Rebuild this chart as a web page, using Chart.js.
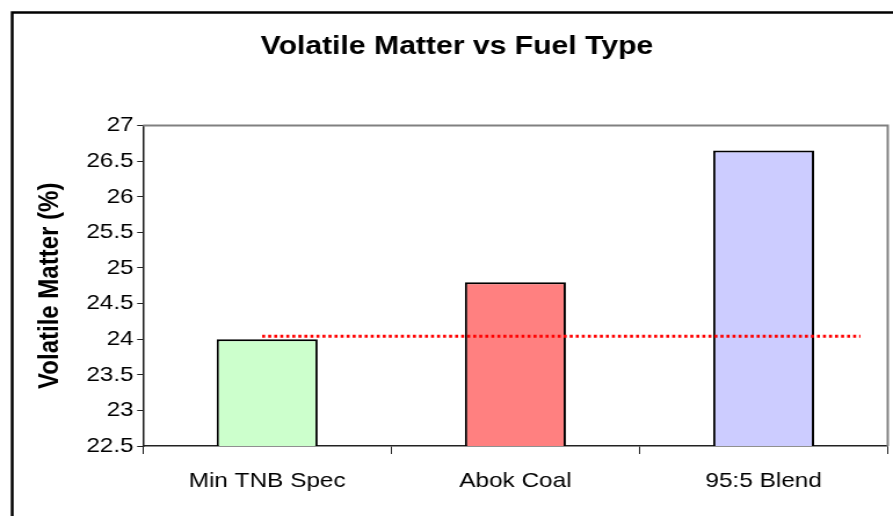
<!DOCTYPE html>
<html>
<head>
<meta charset="utf-8">
<script src="https://cdn.jsdelivr.net/npm/chart.js@4/dist/chart.umd.min.js"></script>
<style>
  html, body { margin: 0; padding: 0; background: #fff; overflow: hidden; }
  /* chart is laid out on a narrower canvas and widened to the page */
  #wrap { width: 770px; height: 516px; transform-origin: 0 0; transform: scaleX(1.1597); }
  canvas { display: block; }
</style>
</head>
<body>
<div id="wrap"><canvas id="c" width="770" height="516" style="width:770px;height:516px"></canvas></div>
<script>
const categories = ['Min TNB Spec', 'Abok Coal', '95:5 Blend'];
const volatileMatter = [24.0, 24.8, 26.65];
const specLevel = 24.04;
const specLineFrom = 0.48;
const specLineTo = 2.89;
const yTickLabels = ['22.5', '23', '23.5', '24', '24.5', '25', '25.5', '26', '26.5', '27'];

const FONT = 'Liberation Sans, Arial, sans-serif';

// plot-area frame (grey top/right edges) and the outer chart border
const framePlugin = {
  id: 'frame',
  beforeDatasetsDraw(chart) {
    const { ctx, chartArea: a } = chart;
    ctx.save();
    ctx.strokeStyle = '#808080';
    ctx.lineWidth = 2;
    ctx.beginPath();
    ctx.moveTo(a.left, a.top);
    ctx.lineTo(a.right, a.top);
    ctx.lineTo(a.right, a.bottom);
    ctx.stroke();
    ctx.restore();
  },
  afterDraw(chart) {
    const { ctx } = chart;
    ctx.save();
    ctx.strokeStyle = '#000';
    ctx.lineWidth = 2.5;
    ctx.strokeRect(10.5, 12.5, 900, 700);
    ctx.restore();
  }
};

new Chart(document.getElementById('c'), {
  type: 'bar',
  data: {
    labels: categories,
    datasets: [
      {
        type: 'bar',
        label: 'Volatile Matter',
        xAxisID: 'x',
        data: volatileMatter,
        backgroundColor: ['#CCFFCC', '#FF8080', '#CCCCFF'],
        borderColor: '#000',
        borderWidth: 2,
        borderSkipped: false,
        grouped: false,
        barPercentage: 0.407,
        categoryPercentage: 1,
        order: 1
      },
      {
        type: 'line',
        label: 'Min spec',
        xAxisID: 'x2',
        data: [{ x: specLineFrom, y: specLevel }, { x: specLineTo, y: specLevel }],
        borderColor: '#FF0000',
        borderWidth: 3,
        borderDash: [2.6, 2.6],
        pointRadius: 0,
        fill: false,
        order: 0
      }
    ]
  },
  options: {
    responsive: false,
    animation: false,
    devicePixelRatio: 1,
    layout: { padding: { left: 22.5, right: 4.5, top: 31.7, bottom: 0 } },
    plugins: {
      legend: { display: false },
      tooltip: { enabled: false },
      title: {
        display: true,
        text: 'Volatile Matter vs Fuel Type',
        color: '#000',
        font: { family: FONT, size: 26, weight: 'bold' },
        padding: { top: 0, bottom: 62.6 }
      }
    },
    scales: {
      x: {
        type: 'category',
        offset: true,
        grid: { display: true, offset: true, drawOnChartArea: false, color: '#222', lineWidth: 1, tickLength: 8 },
        border: { display: true, color: '#222', width: 1.5 },
        ticks: { color: '#000', font: { family: FONT, size: 21 }, padding: 15, maxRotation: 0 },
        afterFit(scale) { scale.height = 70; }
      },
      x2: {
        type: 'linear',
        display: false,
        offset: false,
        grid: { offset: false },
        min: 0,
        max: 3
      },
      y: {
        min: 22.5,
        max: 27,
        ticks: {
          stepSize: 0.5,
          color: '#000',
          font: { family: FONT, size: 21 },
          padding: 3,
          callback: (v) => {
            const i = Math.round((v - 22.5) / 0.5);
            return yTickLabels[i];
          }
        },
        grid: { display: true, drawOnChartArea: false, color: '#222', lineWidth: 1, tickLength: 5 },
        border: { display: true, color: '#222', width: 1.5 },
        title: {
          display: true,
          text: 'Volatile Matter (%)',
          color: '#000',
          font: { family: FONT, size: 24, weight: 'bold' },
          padding: { top: 6.1, bottom: 0 }
        },
        afterFit(scale) { scale.width = 100.8; }
      }
    }
  },
  plugins: [framePlugin]
});
</script>
</body>
</html>
